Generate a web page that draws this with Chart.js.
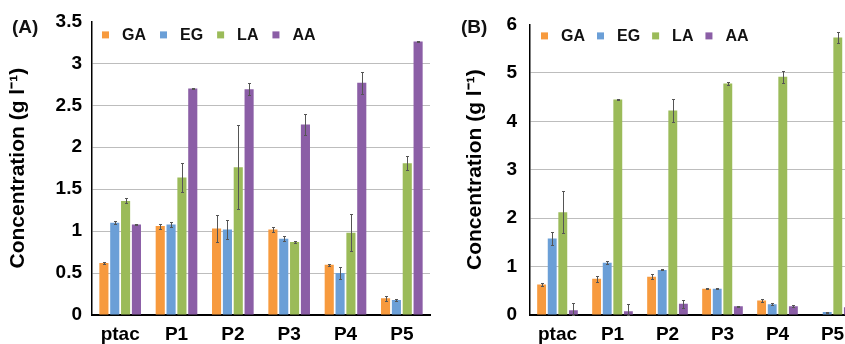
<!DOCTYPE html>
<html>
<head>
<meta charset="utf-8">
<script src="https://cdn.jsdelivr.net/npm/chart.js@4.4.1/dist/chart.umd.min.js"></script>
<style>
  body { margin: 0; background: #fff; }
  #wrap { position: relative; width: 845px; height: 344px; overflow: hidden; }
  canvas { position: absolute; top: 0; }
  #chartA { left: 0; }
  #chartB { left: 440px; }
  .panel { position: absolute; top: 16px; font: bold 19px "Liberation Sans", Arial, sans-serif; color: #111; }
</style>
</head>
<body>
<div id="wrap">
  <canvas id="chartA" width="438" height="344"></canvas>
  <canvas id="chartB" width="430" height="344"></canvas>
  <div class="panel" style="left:12px">(A)</div>
  <div class="panel" style="left:461px">(B)</div>
</div>
<script>
const categories = ['ptac', 'P1', 'P2', 'P3', 'P4', 'P5'];
const seriesNames = ['GA', 'EG', 'LA', 'AA'];
const colors = ['#F79A3E', '#6B9FD7', '#9BBB59', '#8B5EA6'];

// panel A (g/l)
const gaA = [0.62, 1.06, 1.03, 1.02, 0.60, 0.20];
const egA = [1.10, 1.08, 1.02, 0.91, 0.50, 0.18];
const laA = [1.36, 1.64, 1.76, 0.87, 0.98, 1.81];
const aaA = [1.08, 2.70, 2.69, 2.27, 2.77, 3.26];
const gaErrA = [0.01, 0.03, 0.16, 0.03, 0.01, 0.03];
const egErrA = [0.02, 0.03, 0.11, 0.03, 0.07, 0.01];
const laErrA = [0.03, 0.17, 0.50, 0.01, 0.22, 0.08];
const aaErrA = [0.005, 0.01, 0.07, 0.13, 0.13, 0.01];
const yTicksA = ['0', '0.5', '1', '1.5', '2', '2.5', '3', '3.5'];

// panel B (g/l)
const gaB = [0.63, 0.75, 0.79, 0.54, 0.30, 0];
const egB = [1.58, 1.08, 0.93, 0.54, 0.22, 0.06];
const laB = [2.12, 4.45, 4.22, 4.78, 4.92, 5.73];
const aaB = [0.10, 0.08, 0.23, 0.18, 0.18, 0.16];
const gaErrB = [0.04, 0.06, 0.05, 0.01, 0.03, 0];
const egErrB = [0.14, 0.03, 0.01, 0.01, 0.02, 0.01];
const laErrB = [0.43, 0.01, 0.24, 0.03, 0.12, 0.12];
const aaErrB = [0.15, 0.15, 0.09, 0.01, 0.02, 0.01];
const yTicksB = ['0', '1', '2', '3', '4', '5', '6'];

const FONT = '"Liberation Sans", Arial, sans-serif';
const yTitle = 'Concentration (g l\u207B\u00B9)';

// error bars drawn from the errors stored on each dataset
const errorBars = {
  id: 'errorBars',
  afterDatasetsDraw(chart) {
    const ctx = chart.ctx;
    const y = chart.scales.y;
    ctx.save();
    ctx.strokeStyle = '#555';
    ctx.lineWidth = 1;
    chart.data.datasets.forEach((ds, i) => {
      const meta = chart.getDatasetMeta(i);
      meta.data.forEach((bar, j) => {
        const err = ds.errors[j];
        if (!err) return;
        const v = ds.data[j];
        const top = Math.round(y.getPixelForValue(v + err)) + 0.5;
        const bot = Math.round(y.getPixelForValue(Math.max(v - err, 0))) + 0.5;
        const x = Math.round(bar.x) + 0.5;
        ctx.beginPath();
        ctx.moveTo(x, top); ctx.lineTo(x, bot);
        ctx.moveTo(x - 1.5, top); ctx.lineTo(x + 1.5, top);
        ctx.moveTo(x - 1.5, bot); ctx.lineTo(x + 1.5, bot);
        ctx.stroke();
      });
    });
    ctx.restore();
  }
};

// small square legend inside the plot area
const boxLegend = {
  id: 'boxLegend',
  afterDatasetsDraw(chart, args, opts) {
    const ctx = chart.ctx;
    const a = chart.chartArea;
    ctx.save();
    ctx.font = 'bold 16px ' + FONT;
    ctx.textBaseline = 'middle';
    let x = a.left + opts.dx;
    const yy = a.top + opts.dy;
    chart.data.datasets.forEach(ds => {
      ctx.fillStyle = ds.backgroundColor;
      ctx.fillRect(x, yy - 4, 7, 7);
      x += 20;
      ctx.fillStyle = '#111';
      ctx.fillText(ds.label, x, yy);
      x += ctx.measureText(ds.label).width + opts.gap;
    });
    ctx.restore();
  }
};

function makeChart(id, series, errors, yMax, yStep, yTicks, axisWidth, titlePad, tickPad, rightPad, legendOpts) {
  return new Chart(document.getElementById(id), {
    type: 'bar',
    data: {
      labels: categories,
      datasets: series.map((d, i) => ({
        label: seriesNames[i],
        data: d,
        errors: errors[i],
        backgroundColor: colors[i],
        borderWidth: 0,
        categoryPercentage: 0.77,
        barPercentage: 0.84
      }))
    },
    options: {
      responsive: false,
      animation: false,
      devicePixelRatio: 1,
      layout: { padding: { left: 0, right: rightPad, top: 19, bottom: 0 } },
      plugins: {
        legend: { display: false },
        tooltip: { enabled: false },
        boxLegend: legendOpts
      },
      scales: {
        x: {
          afterFit(scale) { scale.height = 29; },
          grid: { display: false, drawTicks: false },
          border: { color: '#000', width: 2 },
          ticks: { color: '#000', padding: 8, font: { family: FONT, size: 19, weight: 'bold' } }
        },
        y: {
          min: 0,
          max: yMax,
          afterFit(scale) { scale.width = axisWidth; },
          ticks: {
            stepSize: yStep,
            padding: tickPad,
            color: '#000',
            font: { family: FONT, size: 19, weight: 'bold' },
            callback: (v, i) => yTicks[i]
          },
          grid: {
            drawTicks: false,
            lineWidth: 1,
            color: ctx => (ctx.tick && (ctx.tick.value === 0 || ctx.tick.value === yMax)) ? 'rgba(0,0,0,0)' : '#BDBDBD'
          },
          border: { color: '#000', width: 1.5 },
          title: {
            display: true,
            text: yTitle,
            color: '#000',
            padding: { top: titlePad, bottom: 0 },
            font: { family: FONT, size: 21, weight: 'bold' }
          }
        }
      }
    },
    plugins: [errorBars, boxLegend]
  });
}

makeChart('chartA', [gaA, egA, laA, aaA], [gaErrA, egErrA, laErrA, aaErrA],
  3.5, 0.5, yTicksA, 92, 6, 10, 8, { dx: 10, dy: 14, gap: 14 });
makeChart('chartB', [gaB, egB, laB, aaB], [gaErrB, egErrB, laErrB, aaErrB],
  6, 1, yTicksB, 90, 23, 13, 10, { dx: 11, dy: 12, gap: 12 });
</script>
</body>
</html>
